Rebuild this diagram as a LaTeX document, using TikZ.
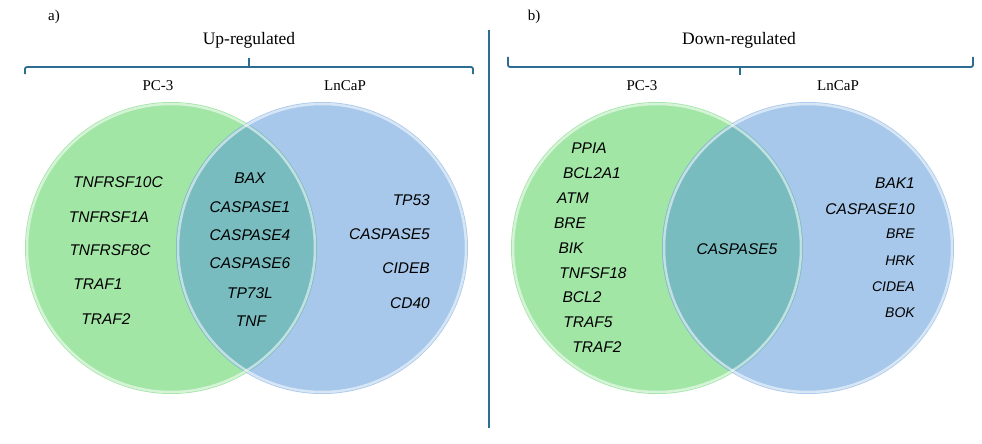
\documentclass[tikz,border=0pt]{standalone}
\usepackage{fontspec}
\setmainfont{Liberation Serif}
\newfontfamily\genefont{Liberation Sans}
\definecolor{vgreen}{HTML}{A2E6A6}
\definecolor{vblue}{HTML}{A7C8EA}
\definecolor{vteal}{HTML}{78BCC0}
\definecolor{lineblue}{HTML}{2C6E91}
\begin{document}
\begin{tikzpicture}[x=1pt,y=-1pt,
  title/.style={font=\fontsize{17.5}{20}\selectfont},
  setlabel/.style={font=\fontsize{15}{18}\selectfont},
  panel/.style={font=\fontsize{15}{18}\selectfont},
  gene/.style={font=\genefont\itshape\fontsize{15.5}{18}\selectfont, inner sep=0pt},
  sgene/.style={font=\genefont\itshape\fontsize{14}{17}\selectfont, inner sep=0pt},
  bracket/.style={draw=lineblue, line width=1.8pt, rounded corners=2pt},
  rim/.style={draw=white, draw opacity=0.55, line width=2.5pt}]
\useasboundingbox (0,0) rectangle (982,444);
% ---------- panel a ----------
\fill[vgreen] (171,248) circle (146);
\fill[vblue] (322,248) circle (146);
\begin{scope}
  \clip (171,248) circle (146);
  \fill[vteal] (322,248) circle (146);
\end{scope}
\draw[rim] (171,248) circle (144);
\draw[rim] (322,248) circle (144);
% ---------- panel b ----------
\fill[vgreen] (657,248) circle (146);
\fill[vblue] (808,248) circle (146);
\begin{scope}
  \clip (657,248) circle (146);
  \fill[vteal] (808,248) circle (146);
\end{scope}
\draw[rim] (657,248) circle (144);
\draw[rim] (808,248) circle (144);
% ---------- divider ----------
\coordinate (divtop) at (489,30);
\coordinate (divbot) at (489,428);
\draw[lineblue, line width=1.8pt] (divtop) -- (divbot);
% ---------- brackets ----------
\coordinate (aL) at (25,74);
\coordinate (aR) at (473,74);
\coordinate (aM) at (249,58);
\draw[bracket] (aL) |- (473,67) -- (aR);
\draw[bracket] (aM) -- (249,67);
\coordinate (bL) at (508,57);
\coordinate (bR) at (973,57);
\coordinate (bM) at (740,75);
\draw[bracket] (bL) |- (973,67) -- (bR);
\draw[bracket] (bM) -- (740,67);
% ---------- titles ----------
\node[panel] (pa) at (54,17) {a)};
\node[panel] (pb) at (534,17) {b)};
\node[title] (up) at (249,40) {Up-regulated};
\node[title] (down) at (739,40) {Down-regulated};
\node[setlabel] (pca) at (158,86) {PC-3};
\node[setlabel] (lna) at (345,86) {LnCaP};
\node[setlabel] (pcb) at (642,86) {PC-3};
\node[setlabel] (lnb) at (838,86) {LnCaP};
% ---------- genes panel a ----------
\node[gene] (a1) at (118,182) {TNFRSF10C};
\node[gene] (a2) at (109,217) {TNFRSF1A};
\node[gene] (a3) at (110,250) {TNFRSF8C};
\node[gene] (a4) at (98,284) {TRAF1};
\node[gene] (a5) at (106,319) {TRAF2};
\node[gene] (m1) at (250,178) {BAX};
\node[gene] (m2) at (250,207) {CASPASE1};
\node[gene] (m3) at (250,235) {CASPASE4};
\node[gene] (m4) at (250,263) {CASPASE6};
\node[gene] (m5) at (250,293) {TP73L};
\node[gene] (m6) at (251,321) {TNF};
\node[gene, anchor=east] (r1) at (430,200) {TP53};
\node[gene, anchor=east] (r2) at (430,234) {CASPASE5};
\node[gene, anchor=east] (r3) at (430,268) {CIDEB};
\node[gene, anchor=east] (r4) at (430,303) {CD40};
% ---------- genes panel b ----------
\node[gene] (b1) at (589,148) {PPIA};
\node[gene] (b2) at (592,173) {BCL2A1};
\node[gene] (b3) at (573,198) {ATM};
\node[gene] (b4) at (570,223) {BRE};
\node[gene] (b5) at (571,248) {BIK};
\node[gene] (b6) at (593,273) {TNFSF18};
\node[gene] (b7) at (582,297) {BCL2};
\node[gene] (b8) at (588,322) {TRAF5};
\node[gene] (b9) at (597,347) {TRAF2};
\node[gene] (bm) at (737,249) {CASPASE5};
\node[gene, anchor=east] (s1) at (915,183) {BAK1};
\node[gene, anchor=east] (s2) at (915,209) {CASPASE10};
\node[sgene, anchor=east] (s3) at (915,234) {BRE};
\node[sgene, anchor=east] (s4) at (915,261) {HRK};
\node[sgene, anchor=east] (s5) at (915,287) {CIDEA};
\node[sgene, anchor=east] (s6) at (915,313) {BOK};
\end{tikzpicture}
\end{document}
